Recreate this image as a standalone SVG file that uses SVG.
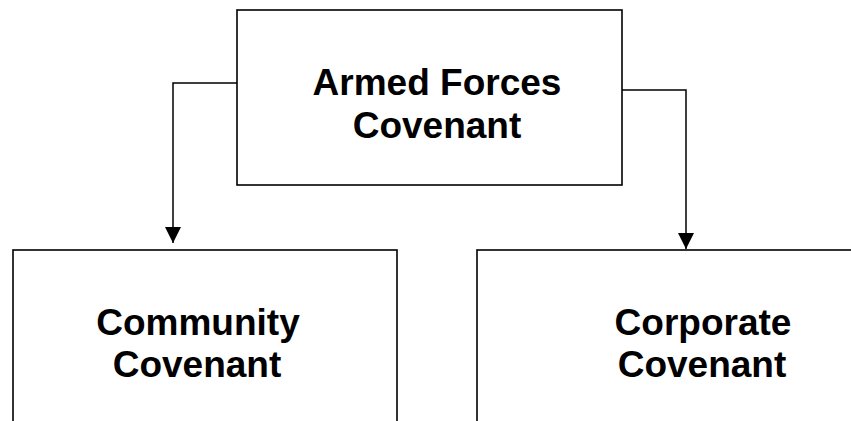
<svg xmlns="http://www.w3.org/2000/svg" width="851" height="421" viewBox="0 0 851 421">
<defs>
<style>
.box{fill:#fff;stroke:#000;stroke-width:1.6}
.conn{fill:none;stroke:#000;stroke-width:1.5}
.lbl{font-family:"Liberation Sans",Arial,sans-serif;font-weight:bold;font-size:37px;fill:#000;text-anchor:middle}
</style>
<marker id="arr" markerUnits="userSpaceOnUse" markerWidth="16" markerHeight="16" refX="16" refY="8" orient="auto">
<path d="M0,0 L16,8 L0,16 Z" fill="#000"/>
</marker>
</defs>
<rect width="851" height="421" fill="#fff"/>
<g id="node-armed">
<rect class="box" x="237" y="10" width="385" height="175"/>
<text class="lbl" x="437" y="95">Armed Forces</text>
<text class="lbl" x="437" y="138">Covenant</text>
</g>
<g id="node-community">
<rect class="box" x="13" y="250" width="384" height="190"/>
<text class="lbl" x="198" y="335">Community</text>
<text class="lbl" x="197" y="377">Covenant</text>
</g>
<g id="node-corporate">
<rect class="box" x="477" y="250" width="400" height="190"/>
<text class="lbl" x="703" y="335">Corporate</text>
<text class="lbl" x="702" y="377">Covenant</text>
</g>
<g id="connectors">
<polyline class="conn" points="237,83 173,83 173,243" marker-end="url(#arr)"/>
<polyline class="conn" points="622,90 686,90 686,249" marker-end="url(#arr)"/>
</g>
</svg>
